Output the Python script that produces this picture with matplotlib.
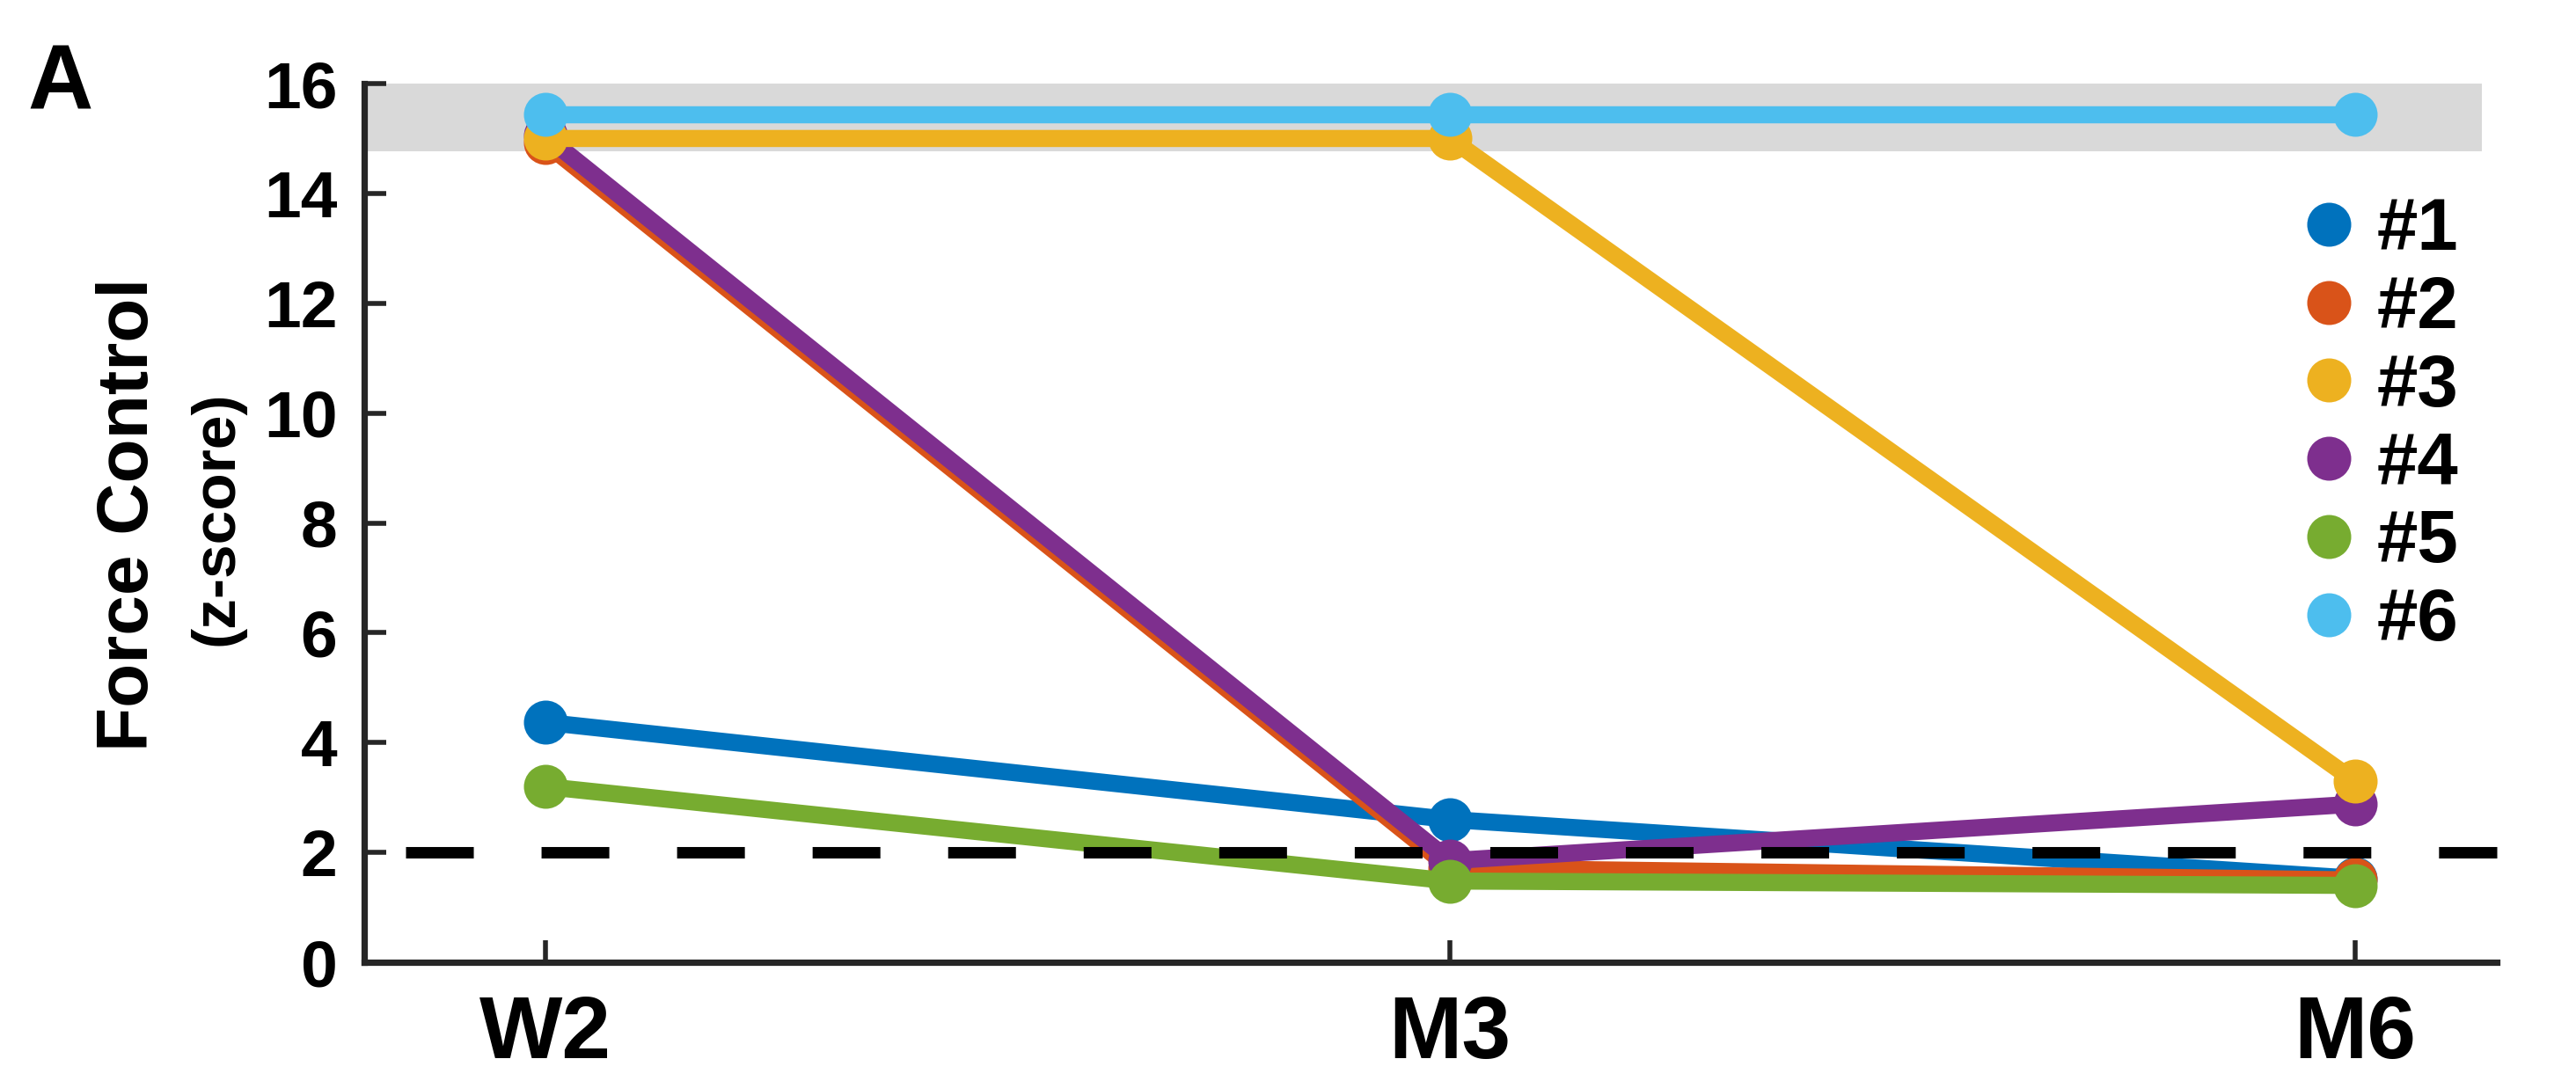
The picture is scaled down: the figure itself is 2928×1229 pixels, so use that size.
import matplotlib.pyplot as plt
from matplotlib.lines import Line2D
import numpy as np

plt.rcParams['font.family'] = ['Liberation Sans', 'DejaVu Sans']
plt.rcParams['font.weight'] = 'bold'

# data
timepoints = ['W2', 'M3', 'M6']
subjects = ['#1', '#2', '#3', '#4', '#5', '#6']
scores = {
    '#1': [4.37, 2.60, 1.53],
    '#2': [14.92, 1.72, 1.50],
    '#3': [15.00, 15.00, 3.30],
    '#4': [15.05, 1.85, 2.88],
    '#5': [3.20, 1.48, 1.40],
    '#6': [15.44, 15.44, 15.44],
}
colors = {
    '#1': '#0072BD',
    '#2': '#D95319',
    '#3': '#EDB120',
    '#4': '#7E2F8E',
    '#5': '#77AC30',
    '#6': '#4DBEEE',
}
threshold = 2.0
ceiling_band = (14.77, 16.0)

# stacking order seen in the picture (bottom -> top)
draw_order = ['#1', '#2', '#4', '#5', '#3', '#6']

fig = plt.figure(figsize=(14.64, 6.145), dpi=200)
ax = fig.add_axes([0.1414, 0.1098, 0.8279, 0.8129])

x = np.arange(len(timepoints))
xmin, xmax = -0.2, 2.157

# gray ceiling band
ax.fill_between([xmin, 2.14], ceiling_band[0], ceiling_band[1],
                color='#d9d9d9', lw=0, zorder=0)

for z, s in enumerate(draw_order):
    ax.plot(x, scores[s], color=colors[s], lw=7.0, marker='o', ms=17,
            solid_capstyle='butt', zorder=2 + z, clip_on=False)

# threshold line
ax.plot([-0.154, xmax], [threshold, threshold], color='black', lw=4.7,
        dashes=(5.9, 5.9), zorder=10, clip_on=False)

ax.set_xlim(xmin, xmax)
ax.set_ylim(0, 16)
ax.set_yticks(np.arange(0, 17, 2))
ax.set_xticks(x)
ax.set_xticklabels(timepoints, fontsize=36, fontweight='bold')
for lab in ax.get_yticklabels():
    lab.set_fontsize(27)
    lab.set_fontweight('bold')

for side in ['top', 'right']:
    ax.spines[side].set_visible(False)
for side in ['left', 'bottom']:
    ax.spines[side].set_linewidth(2.6)
    ax.spines[side].set_color('#262626')
ax.spines['left'].set_bounds(0, 16)

ax.tick_params(axis='both', direction='in', length=9, width=2, color='#262626')
ax.tick_params(axis='y', pad=11)
ax.tick_params(axis='x', pad=13)

# y label in two lines
fig.text(147 / 2928, 1 - 585 / 1229, 'Force Control', rotation=90,
         ha='center', va='center', fontsize=29.5, fontweight='bold')
fig.text(247 / 2928, 1 - 589 / 1229, '(z-score)', rotation=90,
         ha='center', va='center', fontsize=25, fontweight='bold')

fig.text(31 / 2928, 1 - 49 / 1229, 'A', ha='left', va='top',
         fontsize=37, fontweight='bold')

handles = [Line2D([], [], ls='none', marker='o', ms=17, color=colors[s])
           for s in subjects]
ax.legend(handles, subjects, loc='upper left',
          bbox_to_anchor=(2605 / 2928, 1 - 223 / 1229),
          bbox_transform=fig.transFigure, frameon=False,
          prop={'size': 30, 'weight': 'bold'}, handlelength=1.0,
          handletextpad=0.16, labelspacing=0.13, borderpad=0,
          borderaxespad=0)

fig.savefig('out.png', dpi=200)
